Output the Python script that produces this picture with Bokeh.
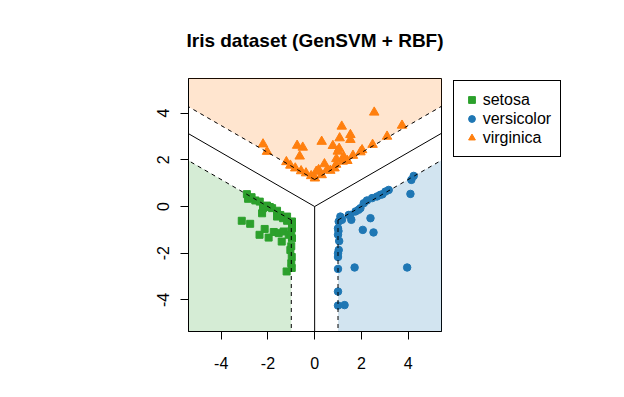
import numpy as np
from bokeh.plotting import figure
from bokeh.models import Legend, LegendItem, FixedTicker, ColumnDataSource
from bokeh.embed import file_html
from bokeh.resources import INLINE

# ---------------- data ----------------
title = "Iris dataset (GenSVM + RBF)"
classes = ["setosa", "versicolor", "virginica"]
colors = ["#2ca02c", "#1f77b4", "#ff7f0e"]
markers = ["square", "circle", "triangle"]
marker_sizes = [7, 7.5, 9.5]

# direction of each class in the simplex space (degrees) and the boundaries between them
class_angles = [210, -30, 90]
boundary_angles = [150, 30, 270]
margin = 1.0

x_ticks = [-4, -2, 0, 2, 4]
y_ticks = [-4, -2, 0, 2, 4]
x_lim = (-5.40, 5.43)
y_lim = (-5.35, 5.48)

setosa_x = [-2.90, -2.85, -2.54, -2.35, -2.04, -2.21, -2.25, -1.82, -1.61, -1.61, -1.47,
            -1.35, -1.18, -1.18, -0.97, -0.97, -3.12, -2.76, -2.14, -2.36, -1.97, -1.75,
            -1.54, -1.33, -1.41, -1.11, -0.97, -1.04, -0.98, -1.00, -0.98, -1.20, -1.00,
            -2.70, -1.92, -1.00]
setosa_y = [0.53, 0.33, 0.26, 0.21, 0.04, -0.07, -0.29, -0.07, -0.18, -0.43, -0.36,
            -0.50, -0.43, -0.61, -0.64, -0.93, -0.61, -0.74, -0.96, -1.21, -1.33, -1.09,
            -1.14, -1.07, -1.50, -1.21, -1.36, -1.86, -2.16, -2.43, -2.63, -2.78, -1.05,
            0.40, -0.02, -1.70]

versicolor_x = [4.24, 4.14, 4.10, 3.17, 3.03, 2.81, 2.67, 2.46, 2.24, 2.10, 1.96, 1.88,
                1.46, 1.57, 2.39, 2.06, 2.52, 1.10, 1.03, 1.00, 1.00, 1.05, 1.17, 1.03,
                1.00, 1.00, 1.71, 3.96, 1.00, 1.00, 1.28, 1.02, 1.00, 1.75, 2.90, 1.53]
versicolor_y = [1.31, 1.14, 0.54, 0.71, 0.64, 0.50, 0.43, 0.36, 0.26, 0.14, -0.07, -0.14,
                -0.36, -0.57, -0.50, -1.00, -1.11, -0.43, -0.64, -0.93, -1.21, -1.48, -0.57,
                -1.86, -2.16, -2.67, -2.61, -2.61, -3.64, -4.24, -4.22, -1.05, -2.00, -0.21,
                0.52, -0.36]

virginica_x = [2.55, 3.74, 3.10, 1.16, 1.53, 1.53, 1.07, 0.30, -0.75, -0.51, 0.78, 1.05,
               2.48, 2.03, 1.96, -0.64, -2.21, -2.04, 1.64, 1.24, 0.93, 1.20, 0.92, 0.42,
               0.85, 0.67, 0.17, 0.07, 0.01, -1.21, -1.04, -0.83, -0.58, -0.37, -0.15,
               0.99, 0.53, 0.30, 1.40]
virginica_y = [4.03, 3.47, 3.00, 3.43, 3.07, 2.86, 2.93, 2.78, 2.61, 2.53, 2.60, 2.48,
               2.65, 2.42, 2.33, 2.15, 2.67, 2.35, 2.18, 2.14, 2.04, 1.93, 1.80, 1.82,
               1.64, 1.54, 1.57, 1.50, 1.21, 1.91, 1.76, 1.64, 1.52, 1.43, 1.31,
               2.36, 1.57, 1.35, 1.96]

points = [(setosa_x, setosa_y), (versicolor_x, versicolor_y), (virginica_x, virginica_y)]

# ---------------- figure ----------------
p = figure(frame_width=253, frame_height=253, x_range=x_lim, y_range=y_lim,
           output_backend="svg", toolbar_location=None,
           min_border_left=188, min_border_right=175, min_border_top=77, min_border_bottom=59)
p.background_fill_color = "white"
p.border_fill_color = "white"
p.outline_line_color = "black"
p.outline_line_width = 1
p.xgrid.visible = False
p.ygrid.visible = False

p.title.text = title
p.title.align = "center"
p.title.text_font = "Liberation Sans"
p.title.text_font_size = "19px"
p.title.text_font_style = "bold"
p.title.text_color = "black"
p.title.standoff = 55

L = 30.0
corner_r = margin / np.sin(np.radians(60))
# margin regions (filled) and their dashed edges
for k, a in enumerate(class_angles):
    cx, cy = corner_r * np.cos(np.radians(a)), corner_r * np.sin(np.radians(a))
    r1 = np.radians(a - 60)
    r2 = np.radians(a + 60)
    e1 = (cx + L * np.cos(r1), cy + L * np.sin(r1))
    e2 = (cx + L * np.cos(r2), cy + L * np.sin(r2))
    far = (e1[0] + L * np.cos(r2), e1[1] + L * np.sin(r2))
    p.patch([cx, e1[0], far[0], e2[0]], [cy, e1[1], far[1], e2[1]],
            fill_color=colors[k], fill_alpha=0.2, line_color=None)

renderers = []
for k in range(3):
    xs, ys = points[k]
    src = ColumnDataSource(dict(x=xs, y=ys))
    r = p.scatter("x", "y", source=src, marker=markers[k], size=marker_sizes[k],
                  fill_color=colors[k], line_color=colors[k], line_width=1)
    renderers.append(r)

for k, a in enumerate(class_angles):
    cx, cy = corner_r * np.cos(np.radians(a)), corner_r * np.sin(np.radians(a))
    for d in (a - 60, a + 60):
        rr = np.radians(d)
        p.line([cx, cx + L * np.cos(rr)], [cy, cy + L * np.sin(rr)],
               line_color="black", line_width=1, line_dash="4 4")

for b in boundary_angles:
    rr = np.radians(b)
    p.line([0, L * np.cos(rr)], [0, L * np.sin(rr)], line_color="black", line_width=1)

# ---------------- axes ----------------
for ax, ticks in ((p.xaxis, x_ticks), (p.yaxis, y_ticks)):
    ax.ticker = FixedTicker(ticks=ticks)
    ax.major_label_overrides = {t: str(t) for t in ticks}
    ax.minor_tick_line_color = None
    ax.major_tick_in = 0
    ax.major_tick_out = 8
    ax.axis_line_color = "black"
    ax.major_tick_line_color = "black"
    ax.major_label_text_font = "Liberation Sans"
    ax.major_label_text_font_size = "16px"
    ax.major_label_text_color = "black"
p.xaxis.major_label_standoff = 17
p.yaxis.major_label_standoff = 11
p.yaxis.major_label_orientation = "vertical"

# ---------------- legend ----------------
items = [LegendItem(label=classes[k], renderers=[renderers[k]]) for k in range(3)]
legend = Legend(items=items, location=(11.7, 174))
legend.border_line_color = "black"
legend.border_line_width = 1
legend.border_line_alpha = 1
legend.background_fill_color = "white"
legend.background_fill_alpha = 1
legend.padding = 9
legend.spacing = 0
legend.margin = 0
legend.label_height = 19
legend.glyph_height = 19
legend.glyph_width = 17
legend.label_standoff = 3
legend.label_text_font = "Liberation Sans"
legend.label_text_font_size = "16px"
legend.label_text_color = "black"
p.add_layout(legend, "right")

open("out.html", "w").write(file_html(p, INLINE))
